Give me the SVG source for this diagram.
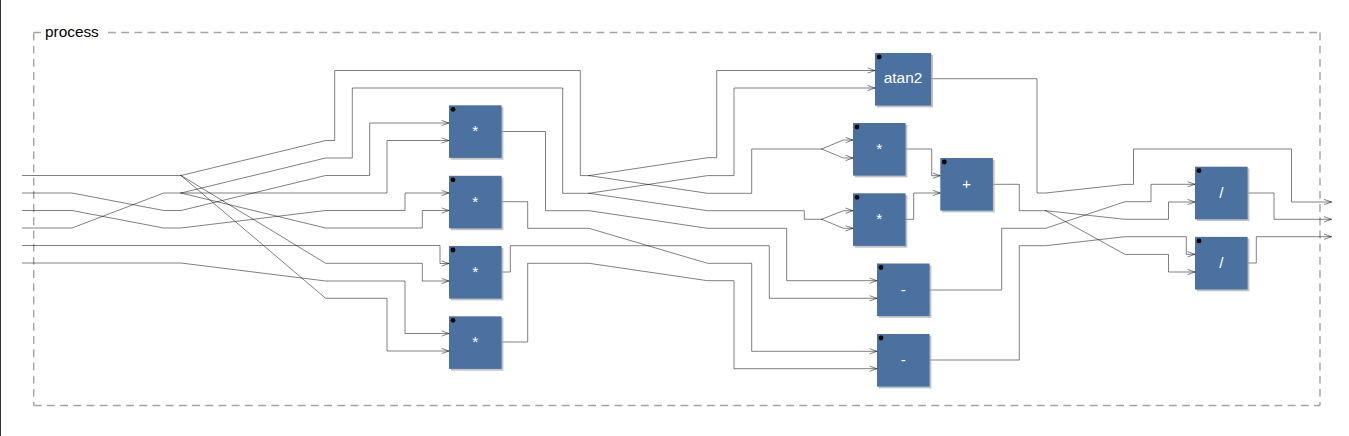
<svg xmlns="http://www.w3.org/2000/svg" width="1349" height="436" viewBox="0 0 1349 436">
<style>
text{font-family:"Liberation Sans",Arial,sans-serif;font-size:15.36px}
.w{fill:none;stroke:#000;stroke-width:.5;stroke-linecap:round;stroke-linejoin:round}
.a{marker-end:url(#arr)}
.frame{fill:none;stroke:#a4a4a4;stroke-width:1.4;stroke-dasharray:7.9 5.3}
.b{fill:#4b71a1}
.s{fill:#aaa;fill-opacity:.7}
.d{fill:#000}
.t{fill:#fff;text-anchor:middle}
.l{fill:#000}
</style>
<defs>
<marker id="arr" markerUnits="userSpaceOnUse" markerWidth="10" markerHeight="8" refX="8" refY="4" orient="auto" overflow="visible"><path d="M.6 1.4L8 4L.6 6.6" fill="none" stroke="#000" stroke-width=".5"/></marker>
</defs>
<rect x="0" y="0" width="1" height="436" fill="#333"/>
<g id="frame">
<path class="frame" d="M33.7 32.5H41M33.7 32.5V405.5M33.7 405.5H1320M108 32.5H1320M1320 32.5V405.5"/>
<text class="l" x="45" y="37">process</text>
</g>
<g id="connectors">
<polyline class="w" points="22.5,175.5 181,175.5"/>
<polyline class="w a" points="22.5,193 72,193 163.7,210.5 181,210.5 325.7,175.5 369.7,175.5 369.7,123 449,123"/>
<polyline class="w a" points="22.5,210.5 72,210.5 163.7,228 181,228 325.7,210.5 405,210.5 405,193 449,193"/>
<polyline class="w" points="22.5,228 72,228 163.7,193 181,193"/>
<polyline class="w a" points="22.5,245.5 440,245.5 440,263.5 449,263.5"/>
<polyline class="w a" points="22.5,263 181,263 325.7,281 405,281 405,333.5 449,333.5"/>
<polyline class="w" points="181,175.5 325.7,140.5 334.7,140.5 334.7,70.5 580.3,70.5 580.3,175.6 589,175.6"/>
<polyline class="w a" points="181,175.5 325.7,263.3 422.3,263.3 422.3,281 449,281"/>
<polyline class="w a" points="181,175.5 325.7,298.3 387,298.3 387,351 449,351"/>
<polyline class="w" points="181,193 325.7,158 352.3,158 352.3,88 562.7,88 562.7,193.3 589,193.3"/>
<polyline class="w a" points="181,193 387,193 387,140.5 449,140.5"/>
<polyline class="w a" points="181,193 325.7,228 422.3,228 422.3,210.5 449,210.5"/>
<polyline class="w a" points="589,175.6 707.5,157.7 716.7,157.7 716.7,70.5 875,70.5"/>
<polyline class="w" points="589,175.6 707.5,193.3 751.7,193.3 751.7,149 821.7,149"/>
<polyline class="w a" points="589,193.3 707.5,175.6 734,175.6 734,88 875,88"/>
<polyline class="w" points="589,193.3 707.5,210.7 804.3,210.7 804.3,219.3 821.7,219.3"/>
<polyline class="w a" points="821.7,149 843.3,140 853,140"/>
<polyline class="w a" points="821.7,149 843.3,158 853,158"/>
<polyline class="w a" points="821.7,219.3 843.3,210.7 853,210.7"/>
<polyline class="w a" points="821.7,219.3 843.3,228.3 853,228.3"/>
<polyline class="w a" points="501,131.5 545.5,131.5 545.5,210.7 589,210.7 707.5,228.3 786.7,228.3 786.7,280.7 877,280.7"/>
<polyline class="w a" points="501,201.7 527.7,201.7 527.7,228.3 589,228.3 707.5,263.3 751.7,263.3 751.7,351.3 877,351.3"/>
<polyline class="w a" points="501,272 510.3,272 510.3,245.7 769.3,245.7 769.3,298.3 877,298.3"/>
<polyline class="w a" points="501,342 527.7,342 527.7,263.3 589,263.3 707.5,280.7 734,280.7 734,368.7 877,368.7"/>
<polyline class="w a" points="931,78.7 1037,78.7 1037,193 1045.7,193 1125,184.4 1133.5,184.4 1133.5,149 1291.5,149 1291.5,202 1331.5,202"/>
<polyline class="w a" points="905,149 931.7,149 931.7,175.7 940.3,175.7"/>
<polyline class="w a" points="905,219.3 913.7,219.3 913.7,193 940.3,193"/>
<polyline class="w" points="993,184.3 1019.3,184.3 1019.3,210.7 1045.7,210.7"/>
<polyline class="w a" points="1045.7,210.7 1125,219.3 1168.5,219.3 1168.5,202 1195,202"/>
<polyline class="w a" points="1045.7,210.7 1125,254.4 1168.5,254.4 1168.5,272 1195,272"/>
<polyline class="w a" points="929.5,290 1001.7,290 1001.7,228.3 1045.7,228.3 1125,201.7 1151,201.7 1151,184.3 1195,184.3"/>
<polyline class="w a" points="929.5,360 1019.3,360 1019.3,245.7 1045.7,245.7 1125,236.7 1186.3,236.7 1186.3,254.3 1195,254.3"/>
<polyline class="w a" points="1248,193 1274,193 1274,219.3 1331.5,219.3"/>
<polyline class="w a" points="1248,263 1256.3,263 1256.3,236.7 1331.5,236.7"/>
</g>
<g id="mul1"><rect class="s" x="450.8" y="107.1" width="52.6" height="52.6"/><rect class="b" x="449" y="105.3" width="52.6" height="52.6"/><circle class="d" cx="453" cy="109.3" r="2.4"/><text class="t" x="475.3" y="136">*</text></g>
<g id="mul2"><rect class="s" x="450.8" y="177.6" width="52.6" height="52.6"/><rect class="b" x="449" y="175.8" width="52.6" height="52.6"/><circle class="d" cx="453" cy="179.8" r="2.4"/><text class="t" x="475.3" y="206.5">*</text></g>
<g id="mul3"><rect class="s" x="450.8" y="247.8" width="52.6" height="52.6"/><rect class="b" x="449" y="246" width="52.6" height="52.6"/><circle class="d" cx="453" cy="250" r="2.4"/><text class="t" x="475.3" y="276.5">*</text></g>
<g id="mul4"><rect class="s" x="450.8" y="318.1" width="52.6" height="52.6"/><rect class="b" x="449" y="316.3" width="52.6" height="52.6"/><circle class="d" cx="453" cy="320.3" r="2.4"/><text class="t" x="475.3" y="347">*</text></g>
<g id="atan2"><rect class="s" x="876.8" y="54.8" width="56.2" height="52.6"/><rect class="b" x="875" y="53" width="56.2" height="52.6"/><circle class="d" cx="879.2" cy="57" r="2.4"/><text class="t" x="903" y="83">atan2</text></g>
<g id="mul5"><rect class="s" x="854.8" y="124.8" width="52.6" height="52.6"/><rect class="b" x="853" y="123" width="52.6" height="52.6"/><circle class="d" cx="857" cy="127" r="2.4"/><text class="t" x="879.3" y="153.5">*</text></g>
<g id="mul6"><rect class="s" x="854.8" y="195.1" width="52.6" height="52.6"/><rect class="b" x="853" y="193.3" width="52.6" height="52.6"/><circle class="d" cx="857" cy="197.3" r="2.4"/><text class="t" x="879.3" y="223.8">*</text></g>
<g id="add"><rect class="s" x="942.1" y="159.8" width="52.6" height="52.6"/><rect class="b" x="940.3" y="158" width="52.6" height="52.6"/><circle class="d" cx="944.3" cy="162" r="2.4"/><text class="t" x="966.6" y="189">+</text></g>
<g id="sub1"><rect class="s" x="878.8" y="265.3" width="52.6" height="52.6"/><rect class="b" x="877" y="263.5" width="52.6" height="52.6"/><circle class="d" cx="881" cy="267.5" r="2.4"/><text class="t" x="903.3" y="294.5">-</text></g>
<g id="sub2"><rect class="s" x="878.8" y="335.8" width="52.6" height="52.6"/><rect class="b" x="877" y="334" width="52.6" height="52.6"/><circle class="d" cx="881" cy="338" r="2.4"/><text class="t" x="903.3" y="365">-</text></g>
<g id="div1"><rect class="s" x="1196.8" y="168.5" width="52.6" height="52.6"/><rect class="b" x="1195" y="166.7" width="52.6" height="52.6"/><circle class="d" cx="1199" cy="170.7" r="2.4"/><text class="t" x="1221.3" y="198">/</text></g>
<g id="div2"><rect class="s" x="1196.8" y="238.7" width="52.6" height="52.6"/><rect class="b" x="1195" y="236.9" width="52.6" height="52.6"/><circle class="d" cx="1199" cy="240.9" r="2.4"/><text class="t" x="1221.3" y="268">/</text></g>
</svg>
